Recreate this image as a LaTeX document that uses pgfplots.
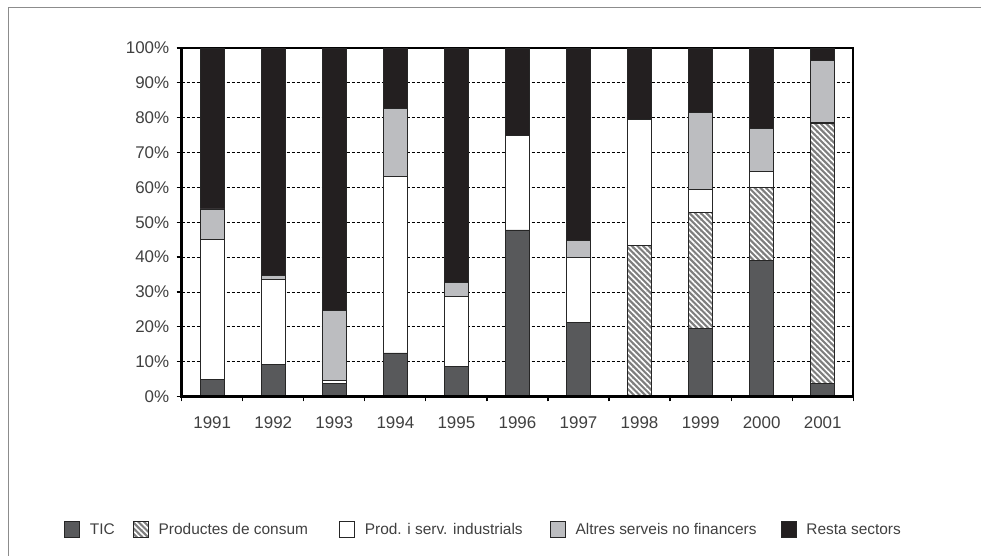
\documentclass[border=0pt]{standalone}
\usepackage{fontspec}
\setmainfont{Liberation Sans}
\usepackage{pgfplots}
\pgfplotsset{compat=1.18}
\usetikzlibrary{patterns.meta}
\definecolor{ticc}{HTML}{58595B}
\definecolor{consc}{HTML}{7E7E7E}
\definecolor{altc}{HTML}{BCBDC0}
\definecolor{restc}{HTML}{231F20}
\definecolor{textgray}{HTML}{404040}
\begin{document}
\begin{tikzpicture}[x=1bp,y=1bp]
\path[use as bounding box] (0,0) rectangle (981,556);
\draw[black!45, line width=1bp] (8.5,0) -- (8.5,548.3) -- (981,548.3);
\begin{axis}[
  at={(181.7bp,159.5bp)}, anchor=south west,
  scale only axis, width=671.5bp, height=348.5bp,
  ybar stacked, bar width=24.4bp,
  xmin=-0.5, xmax=10.5, ymin=0, ymax=100,
  xtick={0,1,2,3,4,5,6,7,8,9,10},
  xticklabels={1991,1992,1993,1994,1995,1996,1997,1998,1999,2000,2001},
  minor xtick={-0.5,0.5,1.5,2.5,3.5,4.5,5.5,6.5,7.5,8.5,9.5,10.5},
  major x tick style={draw=none},
  minor x tick style={black, line width=1.2bp},
  minor tick length=5bp,
  major tick length=5bp,
  tick align=outside,
  ytick={0,10,...,100},
  yticklabel={\pgfmathprintnumber{\tick}\%},
  y tick style={black, line width=1.2bp},
  ytick pos=left, xtick pos=bottom,
  ymajorgrids,
  major grid style={black, line width=0.8bp, dash pattern=on 3bp off 2bp},
  axis line style={black, line width=1.8bp},
  tick label style={font=\fontsize{17}{19}\selectfont, text=textgray},
  yticklabel style={xshift=-4bp},
  xticklabel style={yshift=-12bp},
  /pgf/number format/assume math mode=true,
  legend columns=5,
  legend image code/.code={\draw[#1,draw=black!85,line width=0.8bp] (0bp,-2bp) rectangle (15bp,14bp);},
  legend style={at={(-0.1753,-0.3802)}, anchor=west, draw=none, fill=none, inner sep=0pt,
    font=\fontsize{15.5}{18}\selectfont, text=textgray,
    nodes={inner sep=0pt, anchor=base west},
    /tikz/every odd column/.style={column sep=10bp},
    /tikz/column 2/.style={column sep=18bp},
    /tikz/column 4/.style={column sep=31bp},
    /tikz/column 6/.style={column sep=27bp},
    /tikz/column 8/.style={column sep=24bp}},
  after end axis/.code={\draw[black, line width=3bp] (rel axis cs:0,1) -- (rel axis cs:0,0) -- (rel axis cs:1,0);},
]
\addplot[fill=ticc, draw=black!85, line width=0.8bp] coordinates
  {(0,5.0) (1,9.1) (2,3.75) (3,12.5) (4,8.5) (5,47.8) (6,21.3) (7,0) (8,19.4) (9,39.1) (10,3.8)};
\addplot[fill=consc, draw=black!85, line width=0.8bp,
  postaction={pattern={Lines[angle=-45,distance=4bp,line width=1.6bp]}, pattern color=white}] coordinates
  {(0,0) (1,0) (2,0) (3,0) (4,0) (5,0) (6,0) (7,43.3) (8,33.5) (9,20.8) (10,74.6)};
\addplot[fill=white, draw=black!85, line width=0.8bp] coordinates
  {(0,40.1) (1,24.5) (2,0.75) (3,50.7) (4,20.3) (5,27.1) (6,18.7) (7,36.2) (8,6.4) (9,4.7) (10,0.3)};
\addplot[fill=altc, draw=black!85, line width=0.8bp] coordinates
  {(0,8.7) (1,1.2) (2,20.3) (3,19.5) (4,3.8) (5,0) (6,4.8) (7,0) (8,22.1) (9,12.4) (10,17.6)};
\addplot[fill=restc, draw=black!85, line width=0.8bp] coordinates
  {(0,46.2) (1,65.2) (2,75.2) (3,17.3) (4,67.4) (5,25.1) (6,55.2) (7,20.5) (8,18.6) (9,23.0) (10,3.7)};
\legend{TIC, Productes de consum, Prod. i serv. industrials, Altres serveis no financers, Resta sectors}
\end{axis}
\end{tikzpicture}
\end{document}
